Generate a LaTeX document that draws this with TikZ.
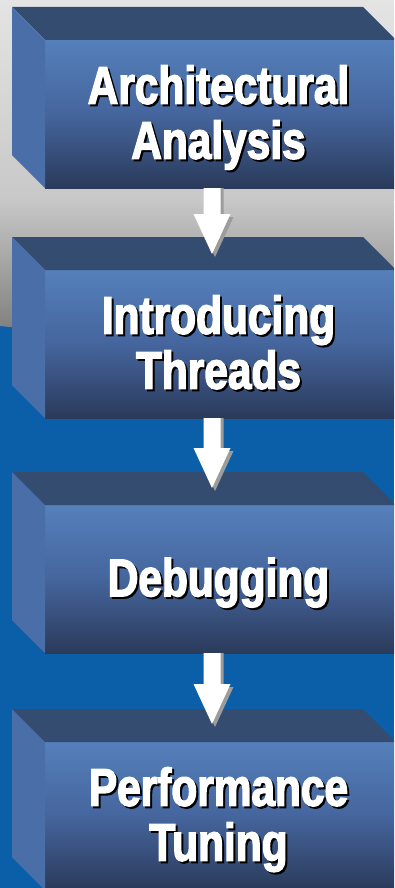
\documentclass[tikz,border=0pt]{standalone}
\usepackage{fontspec}
\newfontfamily\boxfont[FakeStretch=0.8,FakeBold=2.6]{Liberation Sans}
\usetikzlibrary{calc}
\definecolor{bgblue}{HTML}{0A5FA8}
\definecolor{graytop}{HTML}{E4E4E4}
\definecolor{graymid}{HTML}{C8C8C8}
\definecolor{graybot}{HTML}{6C6C6C}
\definecolor{topface}{HTML}{344C70}
\definecolor{sideface}{HTML}{4A6EA8}
\definecolor{fronttop}{HTML}{5580BB}
\definecolor{frontmid}{HTML}{45659D}
\definecolor{frontbot}{HTML}{2A3A5A}
\definecolor{arrowshadow}{HTML}{9C9C9C}
\newcommand\shline[1]{\rule[-14pt]{0pt}{40pt}\rlap{\kern2pt\raisebox{-2pt}{\color{black}#1}}#1}
\newcommand\boxfaces[1]{%
  \fill[topface] (#1.north west) -- ++(-33,-33) -- ($(#1.north east)+(-33,-33)$) -- (#1.north east) -- cycle;
  \fill[sideface] (#1.north west) -- ++(-33,-33) -- ($(#1.south west)+(-33,-33)$) -- (#1.south west) -- cycle;}
\newcommand\boxlabel[2]{%
  \node[labeltext] (#1t) at ($(#1.center)+(-2,5)$) {#2};}
\newcommand\blockarrow[3]{%
  \fill[#3] ($(#1)+(-8.5,0)$) -- ($(#1)+(8.5,0)$) -- ($(#2)+(8.5,-40)$) -- ($(#2)+(18.5,-40)$)
     -- (#2) -- ($(#2)+(-18.5,-40)$) -- ($(#2)+(-8.5,-40)$) -- cycle;}
\begin{document}
\begin{tikzpicture}[x=1pt,y=-1pt,
  front/.style={rectangle, inner sep=0pt, outer sep=0pt, minimum width=351pt, minimum height=148pt,
    anchor=north west, top color=fronttop, bottom color=frontbot, middle color=frontmid},
  labeltext/.style={font=\boxfont\bfseries\fontsize{53}{55}\selectfont, align=center, text=white, inner sep=0pt}]
\useasboundingbox (0,0) rectangle (394,888);
\clip (0,0) rectangle (394,888);
% background
\fill[bgblue] (0,0) rectangle (394,888);
\shade[top color=graytop, bottom color=graymid] (0,0) rectangle (394,200);
\shade[top color=graymid, bottom color=graybot] (0,199) -- (394,199) -- (394,366) -- (0,326) -- cycle;
% boxes
\node[front] (b1) at (45,40) {};
\node[front] (b2) at (45,270) {};
\node[front] (b3) at (45,505) {};
\node[front] (b4) at (45,742) {};
\boxfaces{b1}\boxfaces{b2}\boxfaces{b3}\boxfaces{b4}
\boxlabel{b1}{\shline{Architectural}\\\shline{Analysis}}
\boxlabel{b2}{\shline{Introducing}\\\shline{Threads}}
\boxlabel{b3}{\shline{Debugging}}
\boxlabel{b4}{\shline{Performance}\\\shline{Tuning}}
% arrow end points
\coordinate (a1s) at ($(b1.south)+(-8.5,0)$);
\coordinate (a1e) at ($(b2.north)+(-8.5,-16)$);
\coordinate (a2s) at ($(b2.south)+(-8.5,0)$);
\coordinate (a2e) at ($(b3.north)+(-8.5,-17)$);
\coordinate (a3s) at ($(b3.south)+(-8.5,0)$);
\coordinate (a3e) at ($(b4.north)+(-8.5,-18)$);
\foreach \s/\e in {a1s/a1e, a2s/a2e, a3s/a3e}{
  \coordinate (sh1) at ($(\s)+(3,0)$);
  \coordinate (sh2) at ($(\e)+(3,3)$);
  \blockarrow{sh1}{sh2}{arrowshadow}
  \blockarrow{\s}{\e}{white}
}
\end{tikzpicture}
\end{document}
